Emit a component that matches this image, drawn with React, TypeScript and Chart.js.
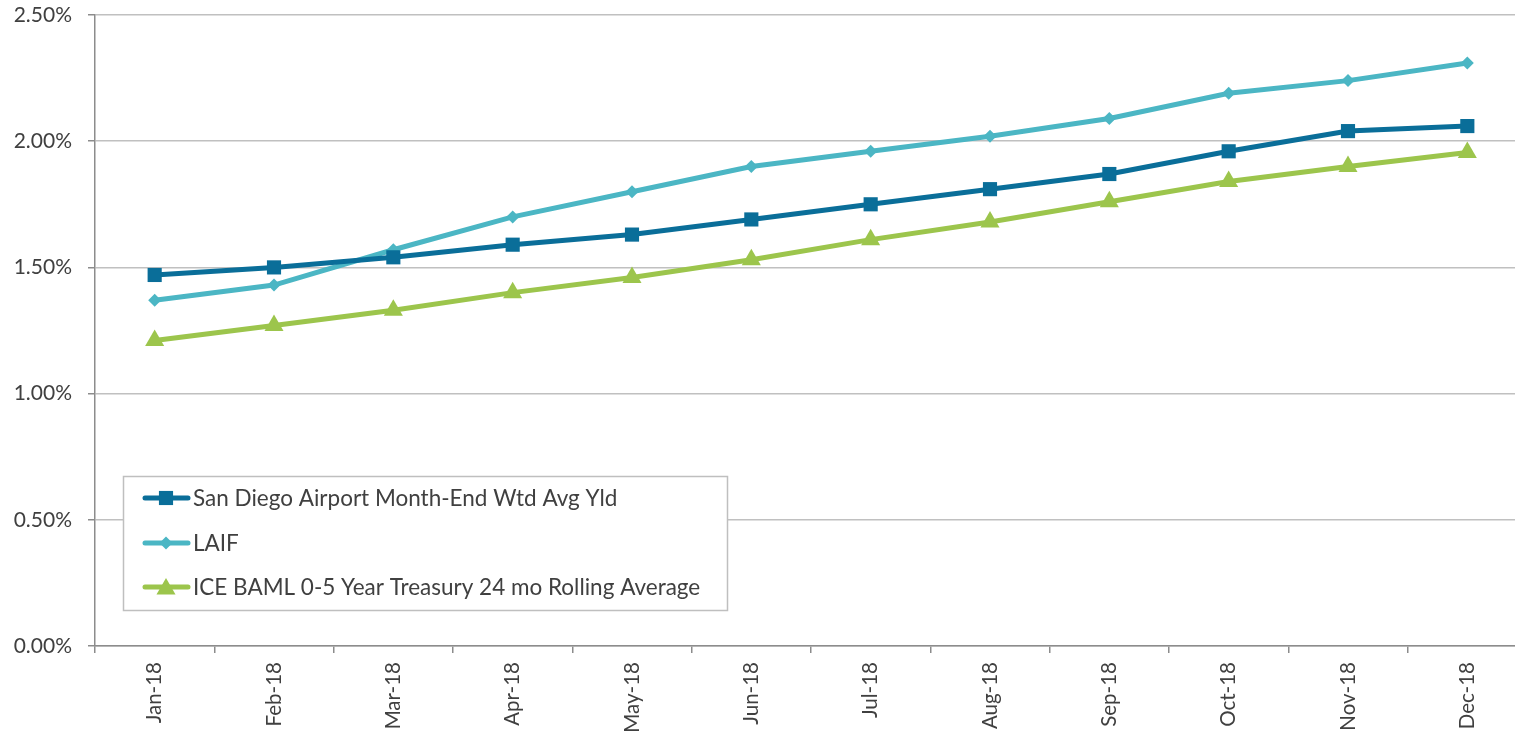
import React, { useEffect, useRef } from "react";
import { Chart, registerables } from "chart.js";

Chart.register(...registerables);

const categories = ["Jan-18", "Feb-18", "Mar-18", "Apr-18", "May-18", "Jun-18", "Jul-18", "Aug-18", "Sep-18", "Oct-18", "Nov-18", "Dec-18"];
const sanDiego = [1.47, 1.50, 1.54, 1.59, 1.63, 1.69, 1.75, 1.81, 1.87, 1.96, 2.04, 2.06];
const laif = [1.37, 1.43, 1.57, 1.70, 1.80, 1.90, 1.96, 2.02, 2.09, 2.19, 2.24, 2.31];
const iceBaml = [1.21, 1.27, 1.33, 1.40, 1.46, 1.53, 1.61, 1.68, 1.76, 1.84, 1.90, 1.955];
const yTicks = [0, 0.5, 1.0, 1.5, 2.0, 2.5];

const seriesNames = [
  "San Diego Airport Month-End Wtd Avg Yld",
  "LAIF",
  "ICE BAML 0-5 Year Treasury 24 mo Rolling Average",
];

const C1 = "#0A6E99";
const C2 = "#4BB6C4";
const C3 = "#9CC54C";
const FONT = "Lato, 'Open Sans', sans-serif";

function drawMarker(ctx: CanvasRenderingContext2D, style: string, x: number, y: number, r: number, color: string) {
  ctx.save();
  ctx.fillStyle = color;
  ctx.beginPath();
  if (style === "rect") {
    const s = Math.SQRT1_2 * r;
    ctx.rect(x - s, y - s, 2 * s, 2 * s);
  } else if (style === "rectRot") {
    ctx.moveTo(x, y - r);
    ctx.lineTo(x + r, y);
    ctx.lineTo(x, y + r);
    ctx.lineTo(x - r, y);
    ctx.closePath();
  } else {
    ctx.moveTo(x, y - r);
    ctx.lineTo(x + r * Math.sin((2 * Math.PI) / 3), y - r * Math.cos((2 * Math.PI) / 3));
    ctx.lineTo(x + r * Math.sin((4 * Math.PI) / 3), y - r * Math.cos((4 * Math.PI) / 3));
    ctx.closePath();
  }
  ctx.fill();
  ctx.restore();
}

const legendPlugin = {
  id: "boxLegend",
  afterDraw(chart: any) {
    const ctx = chart.ctx as CanvasRenderingContext2D;
    const bx = 123.5, by = 476.5, bw = 604, bh = 134;
    ctx.save();
    ctx.fillStyle = "#ffffff";
    ctx.fillRect(bx, by, bw, bh);
    ctx.strokeStyle = "#BFBFBF";
    ctx.lineWidth = 1.5;
    ctx.strokeRect(bx, by, bw, bh);
    const rows = [498, 543, 587];
    chart.data.datasets.forEach((ds: any, i: number) => {
      const y = rows[i];
      ctx.strokeStyle = ds.borderColor;
      ctx.lineWidth = ds.borderWidth;
      ctx.lineCap = "round";
      ctx.beginPath();
      ctx.moveTo(145, y);
      ctx.lineTo(188, y);
      ctx.stroke();
      drawMarker(ctx, ds.pointStyle, 166, ds.pointStyle === "triangle" ? y + 2 : y, ds.pointRadius, ds.borderColor);
      ctx.fillStyle = "#404040";
      ctx.font = `22.5px ${FONT}`;
      ctx.textAlign = "left";
      ctx.textBaseline = "middle";
      ctx.fillText(ds.label, 193, y + 1);
    });
    ctx.restore();
  },
};

export default function App() {
  const ref = useRef<HTMLCanvasElement | null>(null);
  useEffect(() => {
    document.body.style.margin = "0";
    if (!ref.current) return;
    const chart = new Chart(ref.current, {
      type: "line",
      data: {
        labels: categories,
        datasets: [
          { label: seriesNames[0], data: sanDiego, borderColor: C1, backgroundColor: C1, borderWidth: 5, pointStyle: "rect", pointRadius: 10, pointBorderWidth: 0, tension: 0 },
          { label: seriesNames[1], data: laif, borderColor: C2, backgroundColor: C2, borderWidth: 5, pointStyle: "rectRot", pointRadius: 6.5, pointBorderWidth: 0, tension: 0 },
          { label: seriesNames[2], data: iceBaml, borderColor: C3, backgroundColor: C3, borderWidth: 5, pointStyle: "triangle", pointRadius: 11, pointBorderWidth: 0, tension: 0 },
        ],
      },
      options: {
        responsive: false,
        animation: false,
        layout: { padding: { top: 15, right: 5, left: 0, bottom: 0 } },
        plugins: { legend: { display: false }, tooltip: { enabled: false } },
        scales: {
          x: {
            type: "category",
            offset: true,
            grid: { display: true, drawOnChartArea: false, drawTicks: true, tickLength: 7, offset: true, color: "#8C8C8C", lineWidth: 1.5 },
            border: { display: true, color: "#8C8C8C", width: 1.5 },
            ticks: { minRotation: 90, maxRotation: 90, padding: 9, color: "#404040", font: { family: FONT, size: 20.5 }, autoSkip: false },
            afterFit(scale: any) { scale.height = 91; scale.paddingLeft = 0; scale.paddingRight = 0; },
          },
          y: {
            min: 0,
            max: 2.5,
            afterBuildTicks(scale: any) { scale.ticks = yTicks.map((v) => ({ value: v })); },
            grid: { color: "#C0C0C0", lineWidth: 1.5, tickLength: 7, tickColor: "#8C8C8C" },
            border: { display: true, color: "#8C8C8C", width: 1.5 },
            ticks: { padding: 16, color: "#404040", font: { family: FONT, size: 21 }, callback: (v: any) => Number(v).toFixed(2) + "%" },
            afterFit(scale: any) { scale.width = 95; scale.paddingTop = 0; scale.paddingBottom = 0; },
          },
        },
      },
      plugins: [legendPlugin],
    });
    return () => chart.destroy();
  }, []);
  return (
    <div style={{ position: "absolute", left: 0, top: 0, width: 1515, height: 737, overflow: "hidden", background: "#fff" }}>
      <canvas ref={ref} width={1538} height={737} style={{ display: "block" }} />
    </div>
  );
}
